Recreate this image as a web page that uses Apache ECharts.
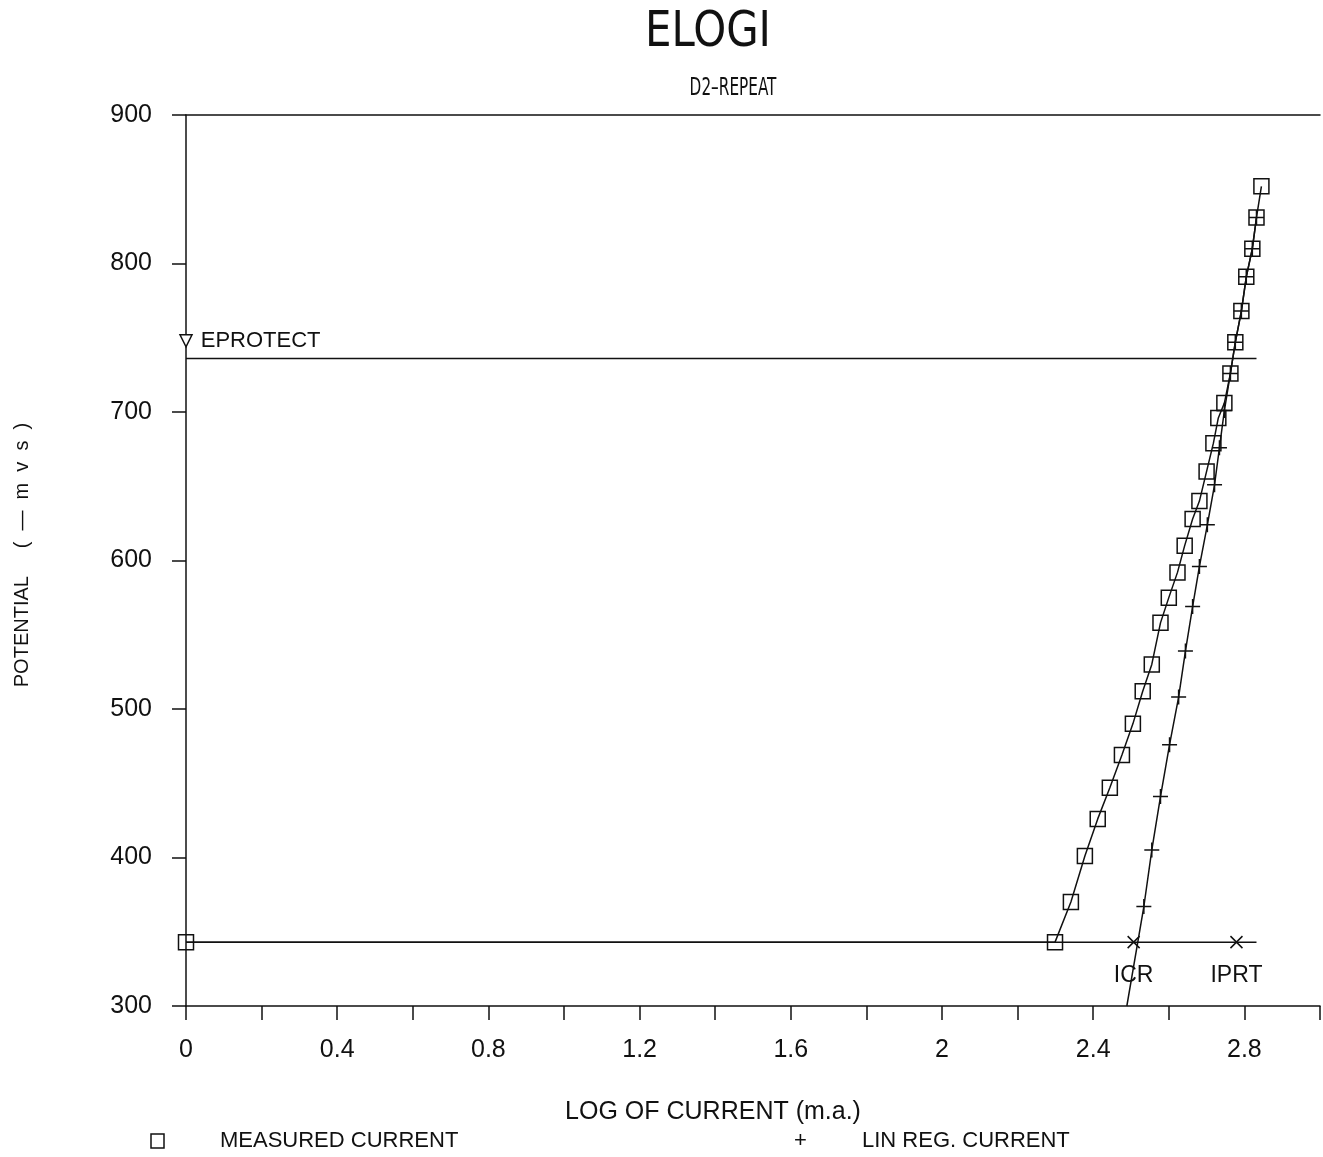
<!DOCTYPE html>
<html>
<head>
<meta charset="utf-8">
<title>ELOGI</title>
<script src="https://cdn.jsdelivr.net/npm/echarts@6/dist/echarts.min.js"></script>
<style>
  html, body { margin: 0; padding: 0; background: #fff; }
  #chart { width: 1323px; height: 1157px; }
</style>
</head>
<body>
<div id="chart"></div>
<script>
// Log of current (m.a.) and potential (-mV) for the measured scan
var measuredLogI = [0, 2.299, 2.341, 2.378, 2.412, 2.444, 2.476, 2.505, 2.531, 2.555, 2.578, 2.600, 2.623, 2.642, 2.663, 2.681, 2.700, 2.718, 2.731, 2.747, 2.763, 2.776, 2.792, 2.805, 2.821, 2.832, 2.845];
var measuredE    = [343, 343, 370, 401, 426, 447, 469, 490, 512, 530, 558, 575, 592, 610, 628, 640, 660, 679, 696, 706, 726, 747, 768, 791, 810, 831, 852];

// Linear-regression current; the last point is the extension down to the axis
var linRegLogI = [2.832, 2.821, 2.805, 2.792, 2.776, 2.763, 2.747, 2.734, 2.721, 2.702, 2.681, 2.663, 2.644, 2.626, 2.602, 2.578, 2.555, 2.534, 2.489];
var linRegE    = [831, 810, 791, 768, 747, 726, 701, 676, 651, 624, 596, 569, 539, 508, 476, 441, 405, 367, 300];

// Reference levels
var eProtectLine = [736, 736];
var eProtectMark = [0, 748];
var eCorrLine = [343, 343];
var refLineLogI = [0, 2.832];
var crossNames = ['ICR', 'IPRT'];
var crossLogI = [2.507, 2.779];
var crossE = [343, 343];

var yTicks = [300, 400, 500, 600, 700, 800, 900];

var FONT = "'Liberation Sans', Arial, sans-serif";
var NARROW = "'Liberation Sans Narrow', 'DejaVu Sans Condensed', 'Liberation Sans', sans-serif";
var INK = '#111';

function pairs(xs, ys) {
  return xs.map(function (x, i) { return [x, ys[i]]; });
}

var linRegData = pairs(linRegLogI, linRegE).map(function (p, i) {
  return i === linRegLogI.length - 1 ? { value: p, symbol: 'none' } : p;
});

var plusPath = 'path://M5,0L5,10M0,5L10,5';
var crossPath = 'path://M0,0L10,10M10,0L0,10';

var chart = echarts.init(document.getElementById('chart'));
chart.setOption({
  backgroundColor: '#fff',
  animation: false,
  grid: { left: 186, top: 115, width: 1136, height: 891, containLabel: false },
  xAxis: [{
    type: 'value', min: 0, max: 3, interval: 0.2, position: 'bottom',
    splitLine: { show: false },
    axisLine: { show: true, onZero: false, lineStyle: { color: INK, width: 1.5 } },
    axisTick: { show: true, inside: false, length: 14, lineStyle: { color: INK, width: 1.5 } },
    axisLabel: {
      margin: 32, fontSize: 25, color: INK, fontFamily: FONT,
      formatter: function (v) {
        var k = v / 0.4;
        if (Math.abs(k - Math.round(k)) > 1e-6 || v > 2.81) return '';
        return String(+v.toFixed(1));
      }
    }
  }, {
    type: 'value', min: 0, max: 3, position: 'top',
    splitLine: { show: false },
    axisLine: { show: true, onZero: false, lineStyle: { color: INK, width: 1.5 } },
    axisTick: { show: false }, axisLabel: { show: false }
  }],
  yAxis: {
    type: 'value', min: yTicks[0], max: yTicks[yTicks.length - 1], interval: 100,
    splitLine: { show: false },
    axisLine: { show: true, onZero: false, lineStyle: { color: INK, width: 1.5 } },
    axisTick: { show: true, inside: false, length: 14, lineStyle: { color: INK, width: 1.5 } },
    axisLabel: { margin: 34, fontSize: 25, color: INK, fontFamily: FONT }
  },
  series: [
    {
      name: 'EPROTECT level', type: 'line', data: pairs(refLineLogI, eProtectLine),
      symbol: 'none', lineStyle: { color: INK, width: 1.5 }, z: 2
    },
    {
      name: 'ECORR level', type: 'line', data: pairs(refLineLogI, eCorrLine),
      symbol: 'none', lineStyle: { color: INK, width: 1.5 }, z: 2
    },
    {
      name: 'MEASURED CURRENT', type: 'line', data: pairs(measuredLogI, measuredE),
      symbol: 'rect', symbolSize: 15, showAllSymbol: true,
      lineStyle: { color: INK, width: 1.5 },
      itemStyle: { color: 'rgba(0,0,0,0)', borderColor: INK, borderWidth: 1.5 }, z: 3
    },
    {
      name: 'LIN REG. CURRENT', type: 'line', data: linRegData,
      symbol: plusPath, symbolSize: 15, showAllSymbol: true,
      lineStyle: { color: INK, width: 1.5 },
      itemStyle: { color: 'rgba(0,0,0,0)', borderColor: INK, borderWidth: 1.5 }, z: 3
    },
    {
      name: 'EPROTECT', type: 'scatter', data: [eProtectMark],
      symbol: 'triangle', symbolRotate: 180, symbolSize: 12,
      itemStyle: { color: '#fff', borderColor: INK, borderWidth: 1.5, opacity: 1 },
      label: { show: true, position: 'right', distance: 8, formatter: 'EPROTECT',
               fontSize: 22, color: INK, fontFamily: FONT }, z: 4
    },
    {
      name: 'currents', type: 'scatter',
      data: crossLogI.map(function (x, i) { return { name: crossNames[i], value: [x, crossE[i]] }; }),
      symbol: crossPath, symbolSize: 12,
      itemStyle: { color: 'rgba(0,0,0,0)', borderColor: INK, borderWidth: 1.5, opacity: 1 },
      label: { show: true, position: 'bottom', distance: 15, formatter: '{b}',
               fontSize: 23, color: INK, fontFamily: FONT }, z: 4
    }
  ],
  graphic: [
    { type: 'text', x: 708, y: 33, scaleX: 0.95,
      style: { text: 'ELOGI', fontSize: 49, fontFamily: NARROW, fill: INK, align: 'center', verticalAlign: 'middle' } },
    { type: 'text', x: 733, y: 88, scaleX: 0.68,
      style: { text: 'D2\u2013REPEAT', fontSize: 25, fontFamily: NARROW, fill: INK, align: 'center', verticalAlign: 'middle' } },
    { type: 'text', x: 713, y: 1112,
      style: { text: 'LOG OF CURRENT (m.a.)', fontSize: 25, fontFamily: FONT, fill: INK, align: 'center', verticalAlign: 'middle' } },
    { type: 'text', x: 22, y: 555, rotation: Math.PI / 2,
      style: { text: 'POTENTIAL     (  \u2014  m  v  s  )', fontSize: 20, fontFamily: FONT, fill: INK,
               align: 'center', verticalAlign: 'middle' } },
    { type: 'rect', shape: { x: 151, y: 1134, width: 13, height: 14 },
      style: { fill: 'none', stroke: INK, lineWidth: 1.5 } },
    { type: 'text', left: 220, top: 1130, style: { text: 'MEASURED CURRENT', fontSize: 22, fontFamily: FONT, fill: INK } },
    { type: 'text', left: 794, top: 1130, style: { text: '+', fontSize: 22, fontFamily: FONT, fill: INK } },
    { type: 'text', left: 862, top: 1130, style: { text: 'LIN REG. CURRENT', fontSize: 22, fontFamily: FONT, fill: INK } }
  ]
});
</script>
</body>
</html>
